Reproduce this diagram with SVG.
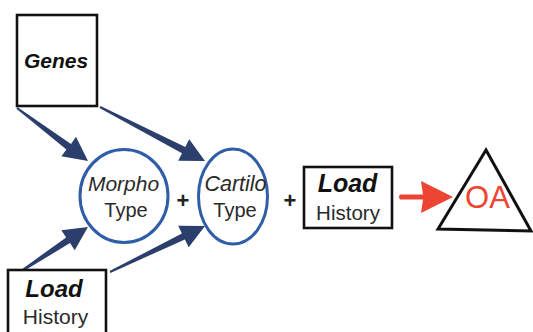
<svg xmlns="http://www.w3.org/2000/svg" width="533" height="332" viewBox="0 0 533 332">
  <style>
    .box { fill: #ffffff; stroke: #111111; stroke-width: 2.6; }
    .oval { fill: #ffffff; stroke: #2f5ea6; stroke-width: 3; }
    .arrow { fill: #2b3e6c; }
    .lbl { font-family: "Liberation Sans", Arial, sans-serif; fill: #2a2a2a; text-anchor: middle; }
    .bi { font-weight: bold; font-style: italic; fill: #111111; }
    .it { font-style: italic; }
    .plus { font-family: "Liberation Sans", Arial, sans-serif; font-weight: bold; font-size: 22px; fill: #222222; text-anchor: middle; }
  </style>

  <rect width="533" height="332" fill="#ffffff"/>

  <!-- connectors -->
  <g id="connectors">
    <polygon class="arrow" points="17.6,107.2 71,144 76,136.8 88,161 61.4,156.2 66.4,149.4 16.4,108.8"/>
    <polygon class="arrow" points="100.5,106.1 185.3,147 189.2,139.3 205,161 178.2,160.7 182,153.2 99.5,107.9"/>
    <polygon class="arrow" points="16.4,273.2 66.1,237.4 61.4,230.2 88,227 74.7,250.2 70,243.1 17.6,274.8"/>
    <polygon class="arrow" points="109.6,271.1 181.9,233.4 178.2,225.7 205,226 188.7,247.3 184.9,239.5 110.4,272.9"/>
    <!-- red arrow into OA -->
    <path d="M400,194.5 L423,194.5 L421,181 L453,197 L421,213 L423,199.5 L400,199.5 Q398,197 400,194.5 Z" fill="#ee4433"/>
  </g>

  <g id="genes">
    <rect class="box" x="17" y="15" width="80" height="91"/>
    <text class="lbl bi" x="56" y="68" font-size="21">Genes</text>
  </g>

  <g id="morpho">
    <ellipse class="oval" cx="124" cy="196" rx="44" ry="46.5"/>
    <text class="lbl it" x="123.5" y="191" font-size="21">Morpho</text>
    <text class="lbl" x="126" y="217" font-size="20">Type</text>
  </g>

  <g id="cartilo">
    <ellipse class="oval" cx="233" cy="196.5" rx="34.5" ry="47.5"/>
    <text class="lbl it" x="235.5" y="191" font-size="21.5">Cartilo</text>
    <text class="lbl" x="235" y="217" font-size="20">Type</text>
  </g>

  <text class="plus" x="183" y="208">+</text>
  <text class="plus" x="290" y="208">+</text>

  <g id="load-left">
    <rect class="box" x="8" y="270" width="98" height="80"/>
    <text class="lbl bi" x="54" y="297" font-size="24">Load</text>
    <text class="lbl" x="55.5" y="324" font-size="21">History</text>
  </g>

  <g id="load-right">
    <rect class="box" x="304" y="167" width="88" height="61" stroke-width="3"/>
    <text class="lbl bi" x="347.5" y="192" font-size="25">Load</text>
    <text class="lbl" x="348" y="220" font-size="20.5">History</text>
  </g>

  <g id="oa">
    <polygon points="486,150 438,229 531,231" fill="#ffffff" stroke="#111111" stroke-width="3" stroke-linejoin="miter"/>
    <text x="487.5" y="208" font-family="Liberation Sans, Arial, sans-serif" font-size="31" fill="#ee4433" text-anchor="middle">OA</text>
  </g>
</svg>
